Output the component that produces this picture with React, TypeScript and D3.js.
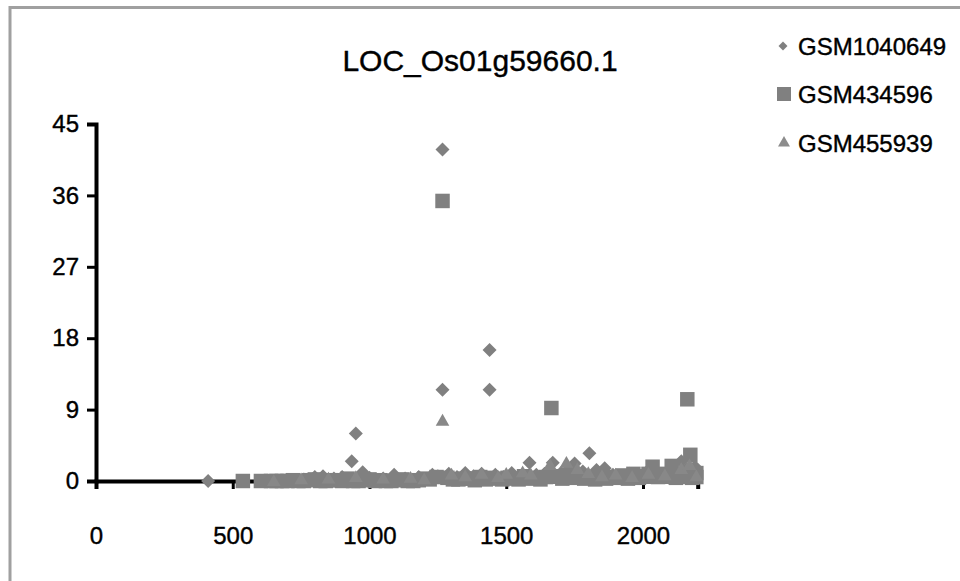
import React, { useRef, useEffect } from "react";
import * as d3 from "d3";

const title = "LOC_Os01g59660.1";
const xTicks = [0, 500, 1000, 1500, 2000];
const yTicks = [0, 9, 18, 27, 36, 45];

// GSM1040649 (diamonds)
const diamondPoints = [
  [410, 0], [640, 0], [700, 0], [760, 0.2], [800, 0.5], [830, 0.6], [870, 0.3],
  [900, 0.5], [935, 2.5], [950, 6.0], [975, 1.1], [1000, 0.4], [1050, 0.3],
  [1090, 0.8], [1130, 0.3], [1180, 0.5], [1200, 0.2], [1230, 0.8], [1250, 0.6],
  [1267, 41.8], [1267, 11.5], [1290, 0.9], [1320, 0.5], [1350, 1.0], [1380, 0.6],
  [1410, 0.9], [1439, 16.5], [1439, 11.5], [1460, 0.8], [1490, 0.5], [1520, 1.0],
  [1560, 0.6], [1585, 2.3], [1610, 0.8], [1640, 0.9], [1670, 2.3], [1700, 1.0],
  [1730, 1.5], [1750, 2.2], [1780, 1.2], [1804, 3.5], [1830, 1.4], [1860, 1.6],
  [1890, 0.8], [1920, 0.6], [1950, 0.9], [1980, 0.5], [2010, 1.0], [2050, 0.8],
  [2080, 0.6], [2110, 1.2], [2140, 2.5], [2160, 1.5], [2190, 1.8],
];

// GSM434596 (squares)
const squarePoints = [
  [537, 0], [603, 0], [640, 0], [660, 0], [680, 0], [700, 0], [720, 0.1],
  [740, 0], [760, 0], [780, 0.1], [800, 0.2], [820, 0], [840, 0], [860, 0.1],
  [880, 0.1], [900, 0], [920, 0.3], [940, 0], [960, 0], [980, 0.1], [1000, 0.2],
  [1020, 0], [1040, 0.1], [1060, 0], [1080, 0], [1100, 0.1], [1120, 0.2],
  [1140, 0], [1160, 0], [1180, 0.1], [1200, 0.3], [1220, 0.2], [1245, 0.5],
  [1267, 35.3], [1285, 0.4], [1305, 0.2], [1325, 0.2], [1345, 0.3], [1365, 0.3],
  [1385, 0.1], [1405, 0.5], [1425, 0.2], [1445, 0.4], [1465, 0.3], [1485, 0.2],
  [1505, 0.4], [1525, 0.3], [1545, 0.2], [1565, 0.6], [1585, 0.3], [1605, 0.4],
  [1625, 0.2], [1645, 0.5], [1665, 9.2], [1685, 0.6], [1705, 0.3], [1725, 0.8],
  [1745, 0.4], [1765, 0.5], [1785, 0.3], [1805, 0.4], [1825, 0.2], [1845, 0.6],
  [1865, 0.3], [1885, 0.5], [1905, 0.4], [1925, 0.7], [1945, 0.3], [1965, 0.9],
  [1985, 0.4], [2005, 0.6], [2020, 0.9], [2035, 1.8], [2055, 0.5], [2075, 0.9],
  [2090, 0.6], [2105, 1.9], [2120, 0.4], [2130, 0.8], [2145, 0.5], [2162, 10.3],
  [2173, 3.3], [2180, 0.4], [2195, 0.5], [2195, 1.0],
];

// GSM455939 (triangles)
const trianglePoints = [
  [650, 0], [750, 0.2], [850, 0.3], [950, 0.5], [1050, 0.3], [1150, 0.4],
  [1200, 0.2], [1267, 7.6], [1300, 0.8], [1350, 0.6], [1410, 0.9], [1470, 0.5],
  [1500, 0.9], [1560, 1.1], [1590, 0.8], [1660, 2.0], [1720, 2.3], [1760, 1.5],
  [1800, 1.0], [1850, 0.6], [1900, 0.8], [1960, 0.5], [2020, 0.9], [2080, 0.7],
  [2140, 1.5], [2170, 2.0], [2195, 0.6],
];

const seriesNames = ["GSM1040649", "GSM434596", "GSM455939"];

const width = 960;
const height = 581;
const font = "Arial, 'Liberation Sans', sans-serif";

function styleText(sel, size) {
  sel
    .style("font-family", font)
    .style("font-size", size)
    .attr("fill", "black")
    .attr("stroke", "black")
    .attr("stroke-width", 0.4);
}

function ScatterChart() {
  const svgRef = useRef(null);

  useEffect(() => {
    const svg = d3.select(svgRef.current);
    svg.selectAll("*").remove();

    const xScale = d3.scaleLinear().domain([0, 2200]).range([96, 697.7]);
    const yScale = d3.scaleLinear().domain([0, 45]).range([481, 124]);

    // outer frame
    svg
      .append("rect")
      .attr("x", 10)
      .attr("y", 7.5)
      .attr("width", width)
      .attr("height", height)
      .attr("fill", "white")
      .attr("stroke", "#a0a0a0")
      .attr("stroke-width", 3);

    // title
    svg
      .append("text")
      .attr("x", 480)
      .attr("y", 71)
      .attr("text-anchor", "middle")
      .call(styleText, "30px")
      .text(title);

    // y axis
    const yAxis = svg
      .append("g")
      .attr("transform", `translate(${xScale(0)},0)`)
      .call(
        d3.axisLeft(yScale).tickValues(yTicks).tickFormat(d3.format("d")).tickSize(9).tickPadding(8)
      );
    yAxis.select(".domain").attr("stroke", "black").attr("stroke-width", 4);
    yAxis.selectAll(".tick line").attr("stroke-width", 3);
    yAxis.selectAll("text").call(styleText, "24px");

    // x axis
    const xAxis = svg
      .append("g")
      .attr("transform", `translate(0,${yScale(0)})`)
      .call(
        d3.axisBottom(xScale).tickValues(xTicks).tickFormat(d3.format("d")).tickSize(8).tickPadding(38)
      );
    xAxis.select(".domain").attr("stroke", "black").attr("stroke-width", 4);
    xAxis.selectAll(".tick line").attr("stroke-width", 3);
    xAxis.selectAll("text").call(styleText, "24px");

    const diamond = d3.symbol(d3.symbolSquare, 98);
    const square = d3.symbol(d3.symbolSquare, 210);
    const triangle = d3.symbol(d3.symbolTriangle, 80);

    svg
      .append("g")
      .selectAll("path")
      .data(squarePoints)
      .join("path")
      .attr("d", square)
      .attr("fill", "#808080")
      .attr("transform", (d) => `translate(${xScale(d[0])},${yScale(d[1])})`);

    svg
      .append("g")
      .selectAll("path")
      .data(diamondPoints)
      .join("path")
      .attr("d", diamond)
      .attr("fill", "#808080")
      .attr("transform", (d) => `translate(${xScale(d[0])},${yScale(d[1])}) rotate(45)`);

    svg
      .append("g")
      .selectAll("path")
      .data(trianglePoints)
      .join("path")
      .attr("d", triangle)
      .attr("fill", "#888888")
      .attr("transform", (d) => `translate(${xScale(d[0])},${yScale(d[1]) + 1})`);

    // legend
    const legend = svg.append("g").attr("transform", "translate(783,0)");
    const rows = [46, 94, 143];
    legend
      .append("path")
      .attr("d", d3.symbol(d3.symbolSquare, 40))
      .attr("fill", "#808080")
      .attr("transform", `translate(0,${rows[0]}) rotate(45)`);
    legend
      .append("path")
      .attr("d", d3.symbol(d3.symbolSquare, 196))
      .attr("fill", "#808080")
      .attr("transform", `translate(1,${rows[1]})`);
    legend
      .append("path")
      .attr("d", d3.symbol(d3.symbolTriangle, 62))
      .attr("fill", "#8c8c8c")
      .attr("transform", `translate(1,${rows[2]})`);
    legend
      .selectAll("text")
      .data(seriesNames)
      .join("text")
      .attr("x", 15)
      .attr("y", (d, i) => rows[i] + 9)
      .call(styleText, "24px")
      .text((d) => d);
  }, []);

  return (
    <svg
      ref={svgRef}
      width={width}
      height={height}
      style={{ position: "absolute", left: 0, top: 0 }}
    ></svg>
  );
}

export default function App() {
  return <ScatterChart />;
}
